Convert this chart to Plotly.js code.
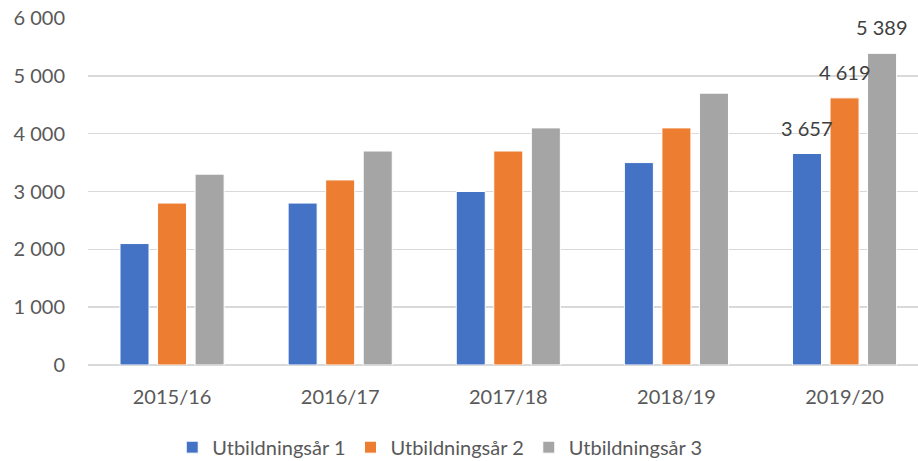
<!DOCTYPE html>
<html>
<head>
<meta charset="utf-8">
<script src="https://cdn.plot.ly/plotly-3.0.1.min.js"></script>
<style>html,body{margin:0;padding:0;background:#fff;}#chart{width:918px;height:461px;}</style>
</head>
<body>
<div id="chart"></div>
<script>
const categories = ["2015/16", "2016/17", "2017/18", "2018/19", "2019/20"];
const seriesNames = ["Utbildningsår 1", "Utbildningsår 2", "Utbildningsår 3"];
const year1 = [2100, 2800, 3000, 3500, 3657];
const year2 = [2800, 3200, 3700, 4100, 4619];
const year3 = [3300, 3700, 4100, 4700, 5389];
const colors = ["#4472C4", "#ED7D31", "#A5A5A5"];
const labelled = ["2019/20"];

const series = [year1, year2, year3];
const FONT = "Lato, 'Open Sans', sans-serif";

const traces = series.map((vals, i) => ({
  type: "bar",
  name: seriesNames[i],
  x: categories,
  y: vals,
  marker: {color: colors[i], line: {color: "#ffffff", width: 1}},
  hoverinfo: "skip"
}));

const step = 37.5;
const annotations = [];
series.forEach((vals, i) => {
  categories.forEach((c, j) => {
    if (labelled.includes(c)) {
      annotations.push({
        x: c, y: vals[j], xref: "x", yref: "y",
        text: vals[j].toLocaleString("sv-SE").replace(/\u00a0/g, " "),
        showarrow: false,
        xshift: (i - 1) * step,
        yshift: 26,
        yanchor: "middle",
        font: {family: FONT, size: 20, color: "#404040"}
      });
    }
  });
});

const layout = {
  width: 918, height: 461,
  margin: {l: 88, r: 0, t: 18, b: 96},
  paper_bgcolor: "#ffffff", plot_bgcolor: "#ffffff",
  font: {family: FONT, size: 20, color: "#595959"},
  separators: ", ",
  barmode: "group",
  bargap: 0.33,
  bargroupgap: 0.227,
  xaxis: {
    type: "category",
    range: [-0.5, 4.437],
    showgrid: false, zeroline: false, showline: false,
    ticks: "", ticklabelstandoff: 18,
    tickfont: {family: FONT, size: 20, color: "#595959"}
  },
  yaxis: {
    range: [0, 6000],
    dtick: 1000,
    tickformat: ",d",
    showgrid: true, gridcolor: "#d9d9d9", gridwidth: 1.5,
    zeroline: true, zerolinecolor: "#d9d9d9", zerolinewidth: 1.5,
    showline: false, ticks: "",
    ticklabelstandoff: 22,
    tickfont: {family: FONT, size: 20, color: "#595959"}
  },
  legend: {
    orientation: "h",
    xref: "container", yref: "container",
    x: 0.479, xanchor: "center",
    y: 0.03, yanchor: "middle",
    font: {family: FONT, size: 20, color: "#595959"},
    traceorder: "normal"
  },
  showlegend: true,
  annotations: annotations
};

Plotly.newPlot("chart", traces, layout, {displayModeBar: false, staticPlot: true});
</script>
</body>
</html>
